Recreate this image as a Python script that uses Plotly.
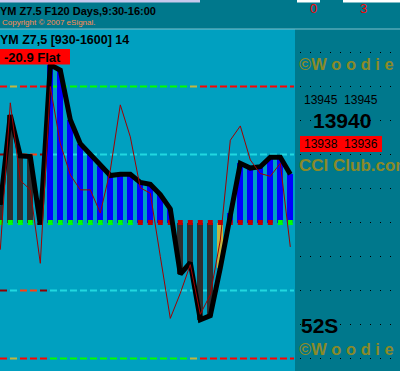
import plotly.graph_objects as go

# ---------------- data ----------------
bar_index = list(range(30))
cci_values = [25, 158, 98, 97, -3, 232, 224, 151, 116, 100, 83, 69, 71, 71, 59,
              56, 41, 20, -76, -59, -143, -137, -67, 14, 87, 80, 82, 96, 96, 71]
tcci_values = [-40, 176, 62, 48, -60, 200, 116, 70, 48, 48, 14, 77, 173, 126, 51,
               43, -50, -141, -104, -62, -135, -106, -26, 121, 142, 92, 72, 68, 87, -36]
hist_state = ['gray'] * 5 + ['blue'] * 13 + ['gray'] * 4 + ['yellow'] + ['blue'] * 7
zero_state = ['green'] * 4 + ['red'] + ['green'] * 9 + ['red'] * 14 + ['green'] * 2
outer_band_state = ['red', 'yellow', 'red', 'red', 'red'] + ['green'] * 14 + ['yellow'] + ['red'] * 10
inner_band_state = ['darkred', 'cyan', 'orange', 'orange', 'darkred'] + ['cyan'] * 25
outer_levels = [200, -200]
inner_levels = [100, -100]
grid_levels = [250, 200, 150, 100, 50, 0, -50, -100, -150, -200]

title_top = "YM Z7.5 F120 Days,9:30-16:00"
copyright_text = "Copyright © 2007 eSignal."
top_counts = ["0", "3"]
panel_title = "YM Z7,5 [930-1600] 14"
status_text = "-20.9 Flat"
price_hi = ["13945", "13945"]
price_last = "13940"
price_lo = ["13938", "13936"]
brand = "©W o o d i e"
club = "CCI Club.com"
timer = "52S"

# ---------------- styles ----------------
W, H = 400, 371
MAIN_BG = "#00A0C0"
DARK_BG = "#00788C"
PLOT_RIGHT = 294
PANEL_X = 295
TOP_H = 30
ZERO_PX = 222.5
PX_PER_UNIT = 0.68
FONT = "Liberation Sans"
OLIVE = "#8A8A28"

state_colors = {
    'gray': '#2E2E2E', 'blue': '#0000FF', 'yellow': '#C4B440',
    'green': '#00FF00', 'red': '#FF0000', 'darkred': '#900000',
    'cyan': '#20D8E0', 'orange': '#FF4010',
}
zero_colors = {'green': '#00FF00', 'red': '#C00000'}


def px(x):
    return x / W


def py(y):
    return 1 - y / H


fig = go.Figure()

# histogram bars
fig.add_trace(go.Bar(
    x=bar_index, y=cci_values, width=0.6,
    marker=dict(color=[state_colors[s] for s in hist_state], line=dict(width=0)),
    showlegend=False, hoverinfo='skip'))

# zero line markers
fig.add_trace(go.Scatter(
    x=bar_index, y=[0] * len(bar_index), mode='markers',
    marker=dict(symbol='square', size=5, color=[zero_colors[s] for s in zero_state],
                line=dict(width=0)),
    showlegend=False, hoverinfo='skip'))

# CCI line
fig.add_trace(go.Scatter(
    x=bar_index, y=cci_values, mode='lines',
    line=dict(color='black', width=5), showlegend=False, hoverinfo='skip'))

# TCCI line
fig.add_trace(go.Scatter(
    x=bar_index, y=tcci_values, mode='lines',
    line=dict(color='#A00000', width=1), showlegend=False, hoverinfo='skip'))

# dotted grid in right panel
for lv in grid_levels:
    fig.add_trace(go.Scatter(
        x=[0, 1], y=[lv, lv], mode='lines', xaxis='x2', yaxis='y',
        line=dict(color='black', width=1, dash='1px,9px'),
        showlegend=False, hoverinfo='skip'))

shapes = []
# backgrounds
shapes.append(dict(type='rect', xref='paper', yref='paper', x0=0, x1=1, y0=py(TOP_H - 1), y1=1,
                   fillcolor=DARK_BG, line=dict(width=0), layer='below'))
shapes.append(dict(type='rect', xref='paper', yref='paper', x0=0, x1=px(200), y0=py(2.5), y1=1,
                   fillcolor='#C8C8EC', line=dict(width=0), layer='below'))
shapes.append(dict(type='rect', xref='paper', yref='paper', x0=px(297), x1=px(320), y0=py(2.5), y1=1,
                   fillcolor='#FFFFFF', line=dict(width=0), layer='below'))
shapes.append(dict(type='rect', xref='paper', yref='paper', x0=px(343), x1=1, y0=py(2.5), y1=1,
                   fillcolor='#FFFFFF', line=dict(width=0), layer='below'))
shapes.append(dict(type='rect', xref='paper', yref='paper', x0=px(PANEL_X), x1=1, y0=0, y1=py(TOP_H - 1),
                   fillcolor=DARK_BG, line=dict(width=0), layer='below'))
shapes.append(dict(type='line', xref='paper', yref='paper', x0=0, x1=1, y0=py(TOP_H - 1), y1=py(TOP_H - 1),
                   line=dict(color='#7FC0CC', width=1), layer='below'))

# band dashes (one dash per bar)
for levels, states in ((outer_levels, outer_band_state), (inner_levels, inner_band_state)):
    for lv in levels:
        for i, s in zip(bar_index, states):
            shapes.append(dict(type='line', xref='x', yref='y', x0=i - 0.03, x1=i + 0.67,
                               y0=lv, y1=lv, line=dict(color=state_colors[s], width=2),
                               layer='below'))

# red boxes
shapes.append(dict(type='rect', xref='paper', yref='paper', x0=0, x1=px(70), y0=py(64.5), y1=py(49),
                   fillcolor='#FF0000', line=dict(width=0)))
shapes.append(dict(type='rect', xref='paper', yref='paper', x0=px(300), x1=px(382), y0=py(152), y1=py(136),
                   fillcolor='#FF0000', line=dict(width=0)))

ann = []


def text(x, y, t, size, color='black', bold=False, anchor='left'):
    ann.append(dict(xref='paper', yref='paper', x=px(x), y=py(y), xanchor=anchor, yanchor='middle',
                    text=f"<b>{t}</b>" if bold else t, showarrow=False,
                    font=dict(family=FONT, size=size, color=color), borderpad=0))


text(-1, 11, title_top, 11, bold=True)
text(1, 22.5, copyright_text, 8, color='#FF8C50')
text(309, 9, top_counts[0], 13, color='#FF0000')
text(359, 9, top_counts[1], 13, color='#FF0000')
text(-1, 39.5, panel_title, 12.5, bold=True)
text(3, 57, status_text, 13, bold=True)
text(298, 64, brand, 16.5, color=OLIVE, bold=True)
text(303, 100, f"{price_hi[0]}&nbsp;&nbsp;{price_hi[1]}", 12)
text(342, 120.5, price_last, 21, bold=True, anchor='center')
text(303, 144, f"{price_lo[0]}&nbsp;&nbsp;{price_lo[1]}", 12)
text(298, 165, club, 17, color=OLIVE, bold=True)
text(300, 325.5, timer, 21, bold=True)
text(298, 349, brand, 16.5, color=OLIVE, bold=True)

y_lo = (ZERO_PX - H) / PX_PER_UNIT
y_hi = (ZERO_PX - TOP_H) / PX_PER_UNIT
x_lo = -0.03
x_hi = x_lo + PLOT_RIGHT / 10.0

fig.update_layout(
    width=W, height=H, margin=dict(l=0, r=0, t=0, b=0),
    paper_bgcolor=MAIN_BG, plot_bgcolor='rgba(0,0,0,0)',
    bargap=0, showlegend=False,
    xaxis=dict(domain=[0, PLOT_RIGHT / W], range=[x_lo, x_hi], visible=False, fixedrange=True),
    xaxis2=dict(domain=[300 / W, 1], range=[0, 1], visible=False, anchor='y', fixedrange=True),
    yaxis=dict(domain=[0, py(TOP_H)], range=[y_lo, y_hi], visible=False, fixedrange=True),
    shapes=shapes, annotations=ann,
)

fig.write_html("out.html")
